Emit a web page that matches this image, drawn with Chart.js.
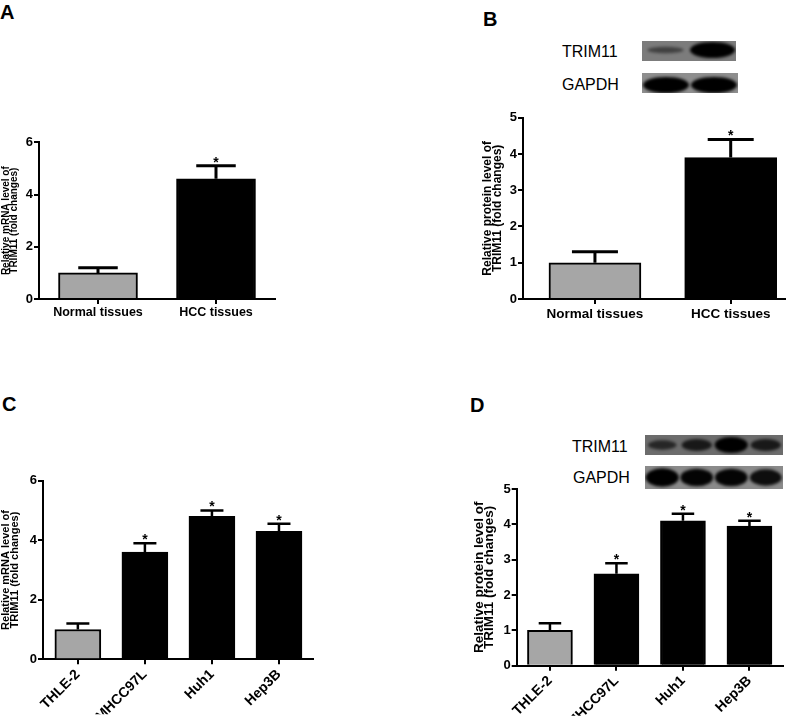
<!DOCTYPE html>
<html><head><meta charset="utf-8">
<script src="https://cdn.jsdelivr.net/npm/chart.js@4"></script>
<style>
body{margin:0;background:#fff;width:800px;height:728px;position:relative;overflow:hidden;font-family:'Liberation Sans',Arial,sans-serif}
canvas{position:absolute}
.t{position:absolute;white-space:nowrap;color:#000;line-height:1}
.L{font-size:20px;font-weight:bold}
.b{font-size:16px}
</style></head><body>
<div class="t L" style="left:0px;top:2px">A</div>
<div class="t L" style="left:483px;top:9px">B</div>
<div class="t L" style="left:2px;top:394px">C</div>
<div class="t L" style="left:470px;top:395px">D</div>
<div class="t b" style="left:562px;top:44px">TRIM11</div>
<div class="t b" style="left:562px;top:77px">GAPDH</div>
<div class="t b" style="left:572px;top:439px">TRIM11</div>
<div class="t b" style="left:573px;top:470px">GAPDH</div>

<canvas id="cA" width="295" height="230" style="left:0px;top:110px"></canvas>
<canvas id="cB" width="330" height="240" style="left:470px;top:100px"></canvas>
<canvas id="cC" width="330" height="268" style="left:0px;top:460px"></canvas>
<canvas id="cD" width="340" height="258" style="left:460px;top:470px"></canvas>

<script>
// ---- data ----
const catTissue = ['Normal tissues', 'HCC tissues'];
const catCells = ['THLE-2', 'MHCC97L', 'Huh1', 'Hep3B'];

const meanA = [1.0, 4.6];
const sdA = [0.2, 0.5];
const sigA = ['', '*'];

const meanB = [1.0, 3.9];
const sdB = [0.3, 0.5];
const sigB = ['', '*'];

const meanC = [1.0, 3.6, 4.8, 4.3];
const sdC = [0.2, 0.3, 0.2, 0.25];
const sigC = ['', '*', '*', '*'];

const meanD = [1.0, 2.6, 4.1, 3.95];
const sdD = [0.2, 0.3, 0.2, 0.15];
const sigD = ['', '*', '*', '*'];

const yTitleMRNA = ['Relative mRNA level of', 'TRIM11 (fold changes)'];
const yTitleProt = ['Relative protein level of', 'TRIM11 (fold changes)'];

// western blot band intensities (relative)
const bandTrimB = [0.2, 1.0];
const bandGapdhB = [1.0, 1.0];
const bandTrimD = [0.45, 0.65, 1.0, 0.65];
const bandGapdhD = [1.0, 0.95, 0.95, 0.85];

// ---- drawing ----
const FF = "'Liberation Sans', Arial, sans-serif";
const GRAY = '#a6a6a6';

const errPlugin = {
  id: 'errbars',
  afterDatasetsDraw(chart, args, opts) {
    const ctx = chart.ctx;
    const xs = chart.scales.x, ys = chart.scales.y;
    const mean = opts.mean, sd = opts.sd, sig = opts.sig;
    ctx.save();
    ctx.strokeStyle = '#000';
    ctx.fillStyle = '#000';
    ctx.lineWidth = opts.lw;
    for (let i = 0; i < mean.length; i++) {
      const x = xs.getPixelForValue(i);
      const y0 = ys.getPixelForValue(mean[i]);
      const y1 = ys.getPixelForValue(mean[i] + sd[i]);
      const hw = opts.cap / 2;
      ctx.beginPath();
      ctx.moveTo(x, y0);
      ctx.lineTo(x, y1);
      ctx.moveTo(x - hw, y1);
      ctx.lineTo(x + hw, y1);
      ctx.stroke();
      if (sig[i]) {
        ctx.font = 'bold 14px ' + FF;
        ctx.textAlign = 'center';
        ctx.textBaseline = 'alphabetic';
        ctx.fillText(sig[i], x, y1 + 1);
      }
    }
    ctx.restore();
  }
};

function makeChart(id, p) {
  const axisCommon = {
    offset: false,
    border: { display: true, color: '#000', width: 2 },
    grid: { display: true, offset: false, drawOnChartArea: false, drawTicks: true, tickLength: 5, color: '#000', lineWidth: 2 }
  };
  return new Chart(document.getElementById(id), {
    type: 'bar',
    data: {
      datasets: [{
        data: p.mean.map((v, i) => ({ x: i, y: v })),
        backgroundColor: p.mean.map((v, i) => i === 0 ? GRAY : '#000'),
        borderColor: '#000',
        borderWidth: 2,
        barThickness: p.barW
      }]
    },
    options: {
      responsive: false,
      animation: false,
      devicePixelRatio: 1,
      layout: { padding: p.pad },
      plugins: {
        legend: { display: false },
        tooltip: { enabled: false },
        errbars: { mean: p.mean, sd: p.sd, sig: p.sig, cap: p.barW * 0.5, lw: p.lw }
      },
      scales: {
        x: Object.assign({}, axisCommon, {
          type: 'linear',
          min: p.xmin, max: p.xmax,
          afterBuildTicks: s => { s.ticks = p.cats.map((c, i) => ({ value: i })); },
          afterFit: s => { s.height = p.xH; },
          ticks: {
            autoSkip: false,
            color: '#000',
            padding: p.xPad,
            minRotation: p.rot, maxRotation: p.rot,
            font: { family: FF, size: p.xFont, weight: 'bold' },
            callback: v => p.cats[v]
          }
        }),
        y: Object.assign({}, axisCommon, {
          min: 0, max: p.ymax,
          afterFit: s => { s.width = p.yW; },
          ticks: {
            stepSize: p.ystep,
            color: '#000',
            padding: 1,
            font: { family: FF, size: 13, weight: 'bold' }
          },
          title: {
            display: true,
            text: p.ytitle,
            color: '#000',
            padding: { top: p.tPad, bottom: 0 },
            font: { family: FF, size: p.tFont, weight: 'bold', lineHeight: p.tLH }
          }
        })
      }
    },
    plugins: [errPlugin]
  });
}

makeChart('cA', { cats: catTissue, mean: meanA, sd: sdA, sig: sigA, ymax: 6, ystep: 2,
  ytitle: yTitleMRNA, tFont: 10, tLH: 0.85, tPad: 1.75,
  pad: { left: 0, top: 32.3, right: 20, bottom: 16 }, xH: 25, yW: 39,
  xmin: -0.5, xmax: 1.5, barW: 79, lw: 3, xFont: 12.5, xPad: 1, rot: 0 });

makeChart('cB', { cats: catTissue, mean: meanB, sd: sdB, sig: sigB, ymax: 5, ystep: 1,
  ytitle: yTitleProt, tFont: 12, tLH: 0.85, tPad: 12.5,
  pad: { left: 0, top: 17.7, right: 15, bottom: 16 }, xH: 25, yW: 53,
  xmin: -0.53, xmax: 1.40, barW: 92, lw: 3, xFont: 13.5, xPad: 2, rot: 0 });

makeChart('cC', { cats: catCells, mean: meanC, sd: sdC, sig: sigC, ymax: 6, ystep: 2,
  ytitle: yTitleMRNA, tFont: 11, tLH: 0.8, tPad: 1.6,
  pad: { left: 0, top: 20.7, right: 17.5, bottom: 13.7 }, xH: 55, yW: 43,
  xmin: -0.52, xmax: 3.5, barW: 46, lw: 2.5, xFont: 14, xPad: 2, rot: 45 });

makeChart('cD', { cats: catCells, mean: meanD, sd: sdD, sig: sigD, ymax: 5, ystep: 1,
  ytitle: yTitleProt, tFont: 13.5, tLH: 0.76, tPad: 14,
  pad: { left: 0, top: 19, right: 17.3, bottom: 12.3 }, xH: 50, yW: 56.7,
  xmin: -0.5, xmax: 3.5, barW: 45, lw: 2.5, xFont: 14, xPad: 2, rot: 45 });

// ---- western blot strips ----
function blot(x, y, w, h, bg, bands, yc) {
  const c = document.createElement('canvas');
  c.width = w; c.height = h;
  c.style.left = x + 'px'; c.style.top = y + 'px';
  document.body.appendChild(c);
  const ctx = c.getContext('2d');
  ctx.fillStyle = bg;
  ctx.fillRect(0, 0, w, h);
  const n = bands.length, lw = w / n;
  ctx.filter = 'blur(1.6px)';
  bands.forEach((s, i) => {
    const cx = (i + 0.5) * lw;
    ctx.fillStyle = 'rgba(0,0,0,' + (0.35 + 0.65 * s) + ')';
    ctx.beginPath();
    ctx.ellipse(cx, h * yc, lw * (0.36 + 0.12 * s), h * (0.1 + 0.3 * s), 0, 0, Math.PI * 2);
    ctx.fill();
  });
  ctx.filter = 'none';
}
blot(642, 41, 94, 20, '#7c7c7c', bandTrimB, 0.45);
blot(642, 73, 96, 20, '#8e8e8e', bandGapdhB, 0.6);
blot(645, 435, 138, 20, '#6c6c6c', bandTrimD, 0.5);
blot(645, 466, 138, 23, '#8a8a8a', bandGapdhD, 0.5);
</script>
</body></html>
